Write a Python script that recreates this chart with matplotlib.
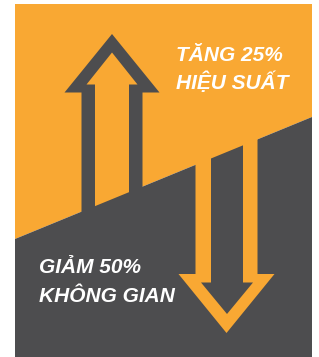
import matplotlib
matplotlib.use("Agg")
import matplotlib.pyplot as plt
from matplotlib.patches import Polygon

# text content
top_lines = ["TĂNG 25%", "HIỆU SUẤT"]
bottom_lines = ["GIẢM 50%", "KHÔNG GIAN"]

ORANGE = "#F9A833"
GRAY = "#4D4D4F"

# panel geometry (pixel units, y grows downward)
left, right, top, bottom = 15, 312, 4, 357
diag_left, diag_right = 239, 117


def arrow(cx, tip, head_y, half_wing, half_shaft, base):
    # same outline works for up or down, depending on tip vs base
    return [(cx - half_shaft, base), (cx - half_shaft, head_y), (cx - half_wing, head_y),
            (cx, tip), (cx + half_wing, head_y), (cx + half_shaft, head_y), (cx + half_shaft, base)]


fig = plt.figure(figsize=(3.19, 3.57), dpi=100)
ax = fig.add_axes([0, 0, 1, 1])
ax.set_xlim(0, 319)
ax.set_ylim(357, 0)
ax.axis("off")

upper = Polygon([(left, top), (right, top), (right, diag_right), (left, diag_left)],
                closed=True, fc=ORANGE, ec="none")
lower = Polygon([(left, diag_left), (right, diag_right), (right, bottom), (left, bottom)],
                closed=True, fc=GRAY, ec="none")
ax.add_patch(upper)
ax.add_patch(lower)

# up arrow: gray outline, orange inside (only above the diagonal)
ax.add_patch(Polygon(arrow(112, 34, 92.5, 47.5, 30.5, bottom), closed=True, fc=GRAY, ec="none"))
inner_up = Polygon(arrow(112, 52.5, 84.5, 25.5, 17, bottom), closed=True, fc=ORANGE, ec="none")
ax.add_patch(inner_up)
inner_up.set_clip_path(upper)

# down arrow: orange outline, gray inside (only below the diagonal)
ax.add_patch(Polygon(arrow(226.5, 333, 274, 48, 31, top), closed=True, fc=ORANGE, ec="none"))
inner_down = Polygon(arrow(227, 314, 282.5, 26, 16, top), closed=True, fc=GRAY, ec="none")
ax.add_patch(inner_down)
inner_down.set_clip_path(lower)

font = dict(family="Liberation Sans", weight="bold", style="italic", size=15,
            color="white", ha="left", va="baseline")
for i, line in enumerate(top_lines):
    ax.text(176, 61 + i * 28.5, line, **font)
for i, line in enumerate(bottom_lines):
    ax.text(39, 273 + i * 29, line, **font)

fig.savefig("out.png", dpi=100, facecolor="white")
